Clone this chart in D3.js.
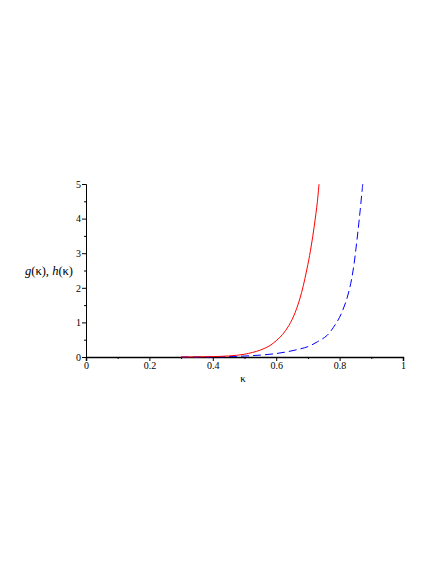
<!DOCTYPE html>
<html><head><meta charset="utf-8">
<script src="https://cdn.jsdelivr.net/npm/d3@7"></script>
<style>body{margin:0;background:#fff}svg{display:block}</style>
</head><body>
<script>
const gX = [0.30,0.35,0.40,0.45,0.50,0.55,0.58,0.60,0.62,0.64,0.66,0.68,0.70,0.71,0.72,0.73,0.735];
const gY = [0.0,0.004,0.012,0.03,0.08,0.2,0.33,0.47,0.65,0.91,1.29,1.86,2.68,3.18,3.78,4.5,5.0];
const hX = [0.30,0.40,0.45,0.50,0.55,0.60,0.65,0.70,0.73,0.76,0.78,0.80,0.82,0.835,0.845,0.855,0.865,0.873];
const hY = [0.0,0.004,0.012,0.028,0.055,0.1,0.18,0.3,0.44,0.62,0.85,1.15,1.6,2.12,2.65,3.4,4.25,5.0];
const xTicks = [0,0.2,0.4,0.6,0.8,1];
const xTickLabels = ["0","0.2","0.4","0.6","0.8","1"];
const yTicks = [0,1,2,3,4,5];

const W=436,H=564;
const svg=d3.select("body").append("svg").attr("width",W).attr("height",H);
const x=d3.scaleLinear().domain([0,1]).range([86,403]);
const y=d3.scaleLinear().domain([0,5]).range([357,184]);
const font="'Liberation Serif','Times New Roman',serif";

// y axis
const ya=svg.append("g").attr("transform","translate(86,0)")
 .call(d3.axisLeft(y).tickValues(yTicks).tickSize(4).tickFormat(d3.format("d")));
ya.select(".domain").attr("stroke","#000");
ya.selectAll("text").attr("font-family",font).attr("font-size",10).attr("dx","0.2em");
svg.append("g").attr("transform","translate(86,0)")
 .call(d3.axisLeft(y).tickValues(d3.range(0.5,5,1)).tickSize(2).tickFormat(""))
 .select(".domain").remove();

// x axis
const xa=svg.append("g").attr("transform","translate(0,357)")
 .call(d3.axisBottom(x).tickValues(xTicks).tickSize(4).tickFormat((d,i)=>xTickLabels[i]));
xa.select(".domain").attr("stroke","#000").attr("stroke-width",1.5);
xa.selectAll("text").attr("font-family",font).attr("font-size",10).attr("dy","0.5em");
svg.append("g").attr("transform","translate(0,357)")
 .call(d3.axisBottom(x).tickValues(d3.range(0.1,1,0.2)).tickSize(2).tickFormat(""))
 .select(".domain").remove();

const line=d3.line().x(d=>x(d[0])).y(d=>y(d[1])).curve(d3.curveCatmullRom.alpha(0.5));
svg.append("path").datum(hX.map((v,i)=>[v,hY[i]]))
 .attr("d",line).attr("fill","none").attr("stroke","#0000ff").attr("stroke-width",1)
 .attr("stroke-dasharray","8,4");
svg.append("path").datum(gX.map((v,i)=>[v,gY[i]]))
 .attr("d",line).attr("fill","none").attr("stroke","#ff0000").attr("stroke-width",1);

// labels
const yl=svg.append("text").attr("x",49).attr("y",275).attr("text-anchor","middle")
 .attr("font-family",font).attr("font-size",12.5);
yl.append("tspan").attr("font-style","italic").text("g");
yl.append("tspan").text("(κ), ");
yl.append("tspan").attr("font-style","italic").text("h");
yl.append("tspan").text("(κ)");
svg.append("text").attr("x",243).attr("y",382).attr("text-anchor","middle")
 .attr("font-family",font).attr("font-size",11).text("κ");
</script>
</body></html>
